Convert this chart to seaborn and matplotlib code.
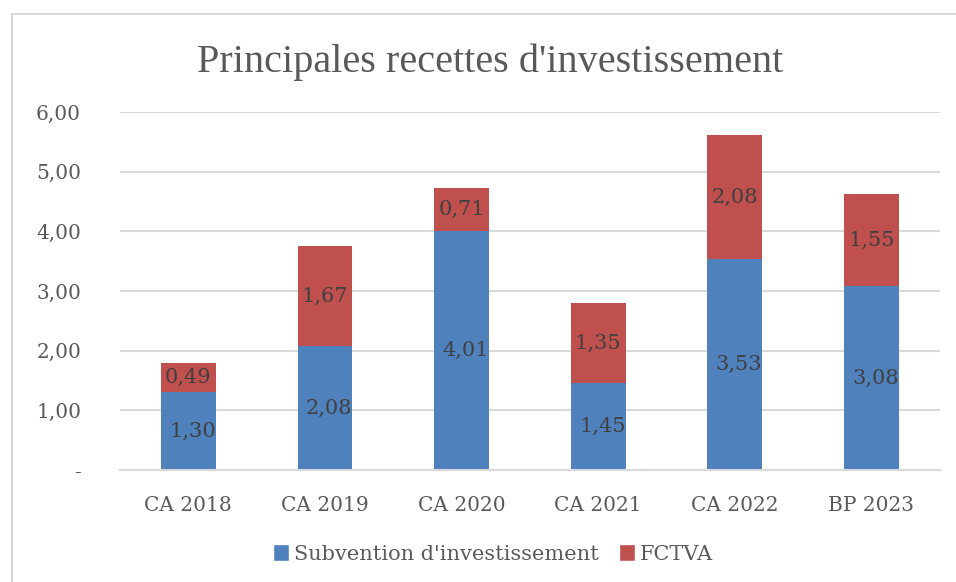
import numpy as np
import pandas as pd
import seaborn as sns
import matplotlib.pyplot as plt
from matplotlib.patches import Patch, Rectangle

# data
categories = ['CA 2018', 'CA 2019', 'CA 2020', 'CA 2021', 'CA 2022', 'BP 2023']
subvention = [1.30, 2.08, 4.01, 1.45, 3.53, 3.08]
fctva = [0.49, 1.67, 0.71, 1.35, 2.08, 1.55]
series_names = ["Subvention d'investissement", 'FCTVA']
yticks = [0, 1, 2, 3, 4, 5, 6]

blue = '#4F81BD'
red = '#C0504D'
grey_txt = '#595959'

sns.set_theme(style='white')
plt.rcParams['font.family'] = ['DejaVu Serif', 'DejaVu Sans']

df = pd.DataFrame({'cat': categories, 'sub': subvention, 'fctva': fctva})
df['total'] = df['sub'] + df['fctva']

fig = plt.figure(figsize=(9.56, 5.82), dpi=100)
ax = fig.add_axes([0.1255, 0.1924, 0.8575, 0.6152])

# red drawn as total, blue over it -> stacked look
sns.barplot(data=df, x='cat', y='total', color=red, saturation=1, width=0.4,
            linewidth=0, ax=ax)
sns.barplot(data=df, x='cat', y='sub', color=blue, saturation=1, width=0.4,
            linewidth=0, ax=ax)

ax.set_xlim(-0.5, 5.5)
ax.set_ylim(0, 6)
ax.set_yticks(yticks)
ax.set_yticklabels(['-' if v == 0 else f'{v:.2f}'.replace('.', ',') for v in yticks])
ax.yaxis.grid(True, color='#D9D9D9', linewidth=1.5)
ax.set_axisbelow(True)
for s in ['top', 'right', 'left']:
    ax.spines[s].set_visible(False)
ax.spines['bottom'].set_color('#D9D9D9')
ax.spines['bottom'].set_linewidth(1.5)
ax.tick_params(axis='y', length=0, pad=28, labelsize=14.5, labelcolor=grey_txt)
ax.tick_params(axis='x', length=0, pad=19, labelsize=14.5, labelcolor=grey_txt)
ax.set_xlabel('')
ax.set_ylabel('')

# data labels
for i, (s, f) in enumerate(zip(subvention, fctva)):
    ax.text(i + 0.03, s / 2, f'{s:.2f}'.replace('.', ','), ha='center', va='center',
            fontsize=15, color='#404040')
    ax.text(i, s + f / 2, f'{f:.2f}'.replace('.', ','), ha='center', va='center',
            fontsize=15, color='#404040')

fig.text(0.5125, 0.893, "Principales recettes d'investissement", ha='center', va='center',
         fontsize=29, color=grey_txt, family=['Liberation Serif', 'DejaVu Serif'])

handles = [Patch(facecolor=blue), Patch(facecolor=red)]
fig.legend(handles, series_names, loc='center', bbox_to_anchor=(0.516, 0.048), ncol=2,
           frameon=False, fontsize=15, labelcolor=grey_txt, handlelength=0.75,
           handleheight=0.85, handletextpad=0.25, columnspacing=1.0)

fig.patches.append(Rectangle((12 / 956, -0.05), 1.0, 1 - 14 / 582 + 0.05, transform=fig.transFigure,
                             fill=False, edgecolor='#D9D9D9', linewidth=1.5))

fig.savefig('out.png', dpi=100)
